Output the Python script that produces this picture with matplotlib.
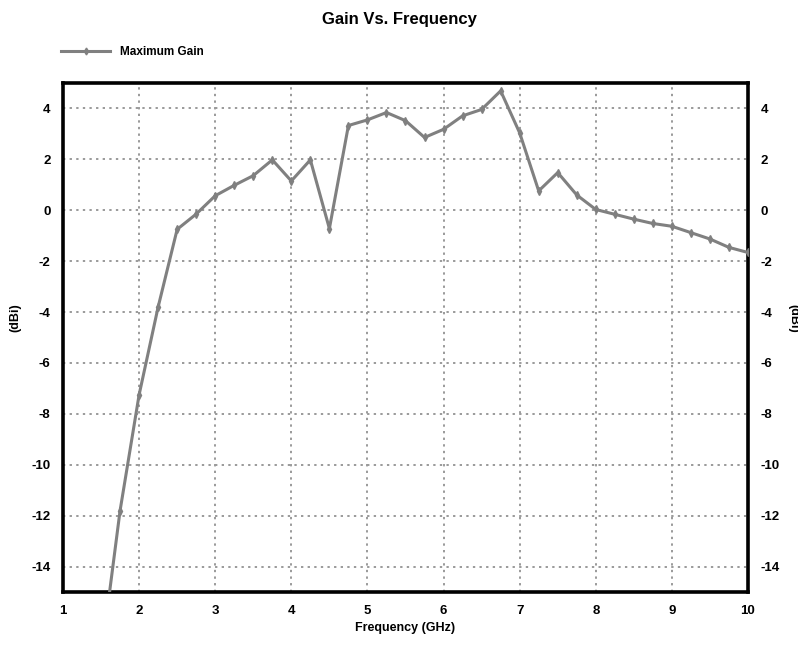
import matplotlib
matplotlib.use('Agg')
import matplotlib.pyplot as plt
from matplotlib.lines import Line2D

plt.rcParams['axes.unicode_minus'] = False

# Maximum gain sweep, 0.25 GHz steps
freq_ghz = [1.5, 1.75, 2.0, 2.25, 2.5, 2.75, 3.0, 3.25, 3.5, 3.75,
            4.0, 4.25, 4.5, 4.75, 5.0, 5.25, 5.5, 5.75, 6.0, 6.25,
            6.5, 6.75, 7.0, 7.25, 7.5, 7.75, 8.0, 8.25, 8.5, 8.75,
            9.0, 9.25, 9.5, 9.75, 10.0]
gain_dbi = [-17.6, -11.8, -7.25, -3.8, -0.75, -0.15, 0.57, 0.98, 1.36, 1.98,
            1.15, 1.98, -0.72, 3.33, 3.55, 3.84, 3.52, 2.86, 3.18, 3.71,
            3.96, 4.69, 3.04, 0.76, 1.48, 0.6, 0.03, -0.16, -0.35, -0.52,
            -0.63, -0.88, -1.13, -1.46, -1.66]

x_ticks = list(range(1, 11))
y_ticks = list(range(-14, 5, 2))

FONT = 'Liberation Sans'
LINE_COLOR = '#808080'

fig = plt.figure(figsize=(7.98, 6.45), dpi=100)
ax = fig.add_axes([63 / 798, 1 - 592 / 645, 685 / 798, 509 / 645])

ax.plot(freq_ghz, gain_dbi, color=LINE_COLOR, lw=2.2, marker='d',
        ms=4, mfc=LINE_COLOR, mec=LINE_COLOR, zorder=3)

ax.set_xlim(1, 10)
ax.set_ylim(-15, 5)
ax.set_xticks(x_ticks)
ax.set_yticks(y_ticks)
ax.grid(True, color='#9a9a9a', linestyle=(0, (1.2, 2.2)), lw=1.4)

for s in ax.spines.values():
    s.set_linewidth(2.6)
    s.set_color('black')

ax.tick_params(axis='both', length=0, labelsize=9.5, pad=9)
ax.tick_params(axis='y', right=True, labelright=True)
for lbl in ax.get_xticklabels() + ax.get_yticklabels():
    lbl.set_fontfamily(FONT)
    lbl.set_fontweight('bold')

ax.set_xlabel('Frequency (GHz)', fontsize=9, fontweight='bold',
              family=FONT, labelpad=4)
# axis title on both sides
fig.text(15 / 798, 1 - 318 / 645, '(dBi)', rotation=90, fontsize=9,
         fontweight='bold', family=FONT, ha='center', va='center')
fig.text(793 / 798, 1 - 318 / 645, '(dBi)', rotation=270, fontsize=9,
         fontweight='bold', family=FONT, ha='center', va='center')

fig.suptitle('Gain Vs. Frequency', x=0.5, y=0.982, fontsize=12,
             fontweight='bold', family=FONT)

handle = Line2D([], [], color=LINE_COLOR, lw=2.2, marker='d', ms=3.5)
fig.legend(handles=[handle], labels=['Maximum Gain'], loc='center left',
           bbox_to_anchor=(0.063, 0.919), frameon=False, handlelength=4.2,
           handletextpad=0.8,
           prop={'family': FONT, 'weight': 'bold', 'size': 8.5})

fig.savefig('out.png', dpi=100)
